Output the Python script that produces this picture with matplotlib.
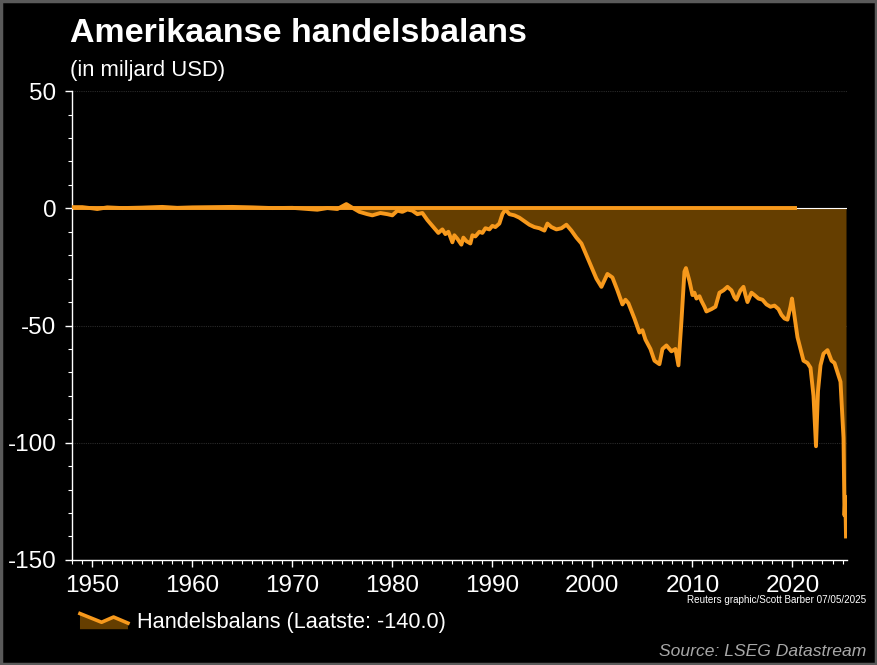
import matplotlib
matplotlib.use("Agg")
import matplotlib.pyplot as plt
from matplotlib.legend_handler import HandlerBase
from matplotlib.patches import Polygon, Rectangle
from matplotlib.lines import Line2D
from matplotlib.ticker import MultipleLocator

plt.rcParams['font.family'] = ['Liberation Sans', 'DejaVu Sans']
plt.rcParams['axes.unicode_minus'] = False

# Monthly US trade balance (bn USD)
years = [
    1948.0, 1949.0, 1950.0, 1950.5, 1951.5, 1953.0, 1955.0, 1957.0, 1958.5, 1960.0,
    1962.0, 1964.0, 1966.0, 1968.0, 1970.0, 1971.5, 1972.5, 1973.5, 1974.5, 1975.4,
    1975.9, 1976.7, 1977.5, 1978.0, 1978.8, 1979.5, 1980.0, 1980.5, 1981.0, 1981.5,
    1982.0, 1982.5, 1983.0, 1983.5, 1984.0, 1984.3, 1984.6, 1985.0, 1985.3, 1985.6,
    1986.0, 1986.2, 1986.5, 1986.9, 1987.1, 1987.4, 1987.8, 1988.0, 1988.3, 1988.7,
    1989.0, 1989.3, 1989.7, 1990.0, 1990.3, 1990.7, 1991.0, 1991.3, 1991.7, 1992.2,
    1992.7, 1993.2, 1993.7, 1994.2, 1994.7, 1995.2, 1995.5, 1995.9, 1996.4, 1996.9,
    1997.4, 1997.9, 1998.4, 1998.9, 1999.4, 1999.9, 2000.4, 2000.9, 2001.5, 2002.0,
    2002.5, 2003.0, 2003.3, 2003.6, 2004.2, 2004.7, 2005.0, 2005.3, 2005.8, 2006.2,
    2006.7, 2007.0, 2007.4, 2007.9, 2008.3, 2008.6, 2008.9, 2009.2, 2009.35, 2009.7,
    2010.0, 2010.2, 2010.4, 2010.7, 2010.9, 2011.2, 2011.4, 2011.9, 2012.3, 2012.7,
    2013.1, 2013.5, 2013.9, 2014.2, 2014.4, 2014.8, 2015.1, 2015.3, 2015.5, 2015.9,
    2016.2, 2016.6, 2017.0, 2017.4, 2017.8, 2018.2, 2018.6, 2018.9, 2019.2, 2019.5,
    2019.8, 2019.95, 2020.2, 2020.5, 2020.8, 2021.1, 2021.5, 2021.8, 2022.1, 2022.35,
    2022.55, 2022.8, 2023.1, 2023.5, 2023.9, 2024.2, 2024.5, 2024.8, 2024.95, 2025.1,
    2025.2, 2025.28, 2025.35,
]
balance = [
    0.5, 0.5, 0.0, -0.3, 0.4, 0.1, 0.3, 0.6, 0.2, 0.4,
    0.5, 0.6, 0.4, 0.1, 0.2, -0.3, -0.6, 0.1, -0.3, 1.8,
    0.5, -1.5, -2.5, -3.0, -2.0, -2.5, -3.0, -1.0, -1.5, -0.5,
    -1.0, -2.5, -2.0, -5.0, -7.5, -9.0, -10.5, -9.0, -11.0, -10.0,
    -14.5, -11.5, -13.0, -15.5, -12.5, -14.0, -15.0, -11.5, -12.0, -10.0,
    -10.5, -8.5, -9.0, -7.5, -8.0, -6.5, -2.5, -0.5, -2.5, -3.0,
    -4.0, -5.5, -7.0, -8.0, -8.5, -9.5, -6.5, -8.0, -9.0, -8.5,
    -7.0, -9.5, -12.5, -15.0, -20.0, -25.0, -30.0, -33.5, -28.0, -29.5,
    -35.0, -41.0, -39.0, -40.5, -47.0, -53.0, -52.0, -56.0, -60.0, -65.0,
    -66.5, -60.0, -58.5, -61.0, -60.0, -67.0, -48.0, -27.0, -25.5, -31.0,
    -37.0, -36.0, -38.5, -37.5, -39.5, -42.0, -44.0, -43.0, -42.0, -36.0,
    -35.0, -33.5, -35.0, -38.0, -39.0, -35.0, -33.5, -37.0, -40.0, -36.0,
    -37.0, -38.5, -39.0, -41.0, -42.0, -41.5, -43.0, -45.5, -47.0, -47.5,
    -42.0, -38.5, -46.0, -55.0, -60.0, -65.0, -66.0, -68.0, -80.0, -101.5,
    -78.0, -67.0, -62.0, -60.5, -65.0, -66.0, -70.0, -74.0, -86.0, -98.0,
    -131.0, -123.0, -140.0,
]

zero_orange_end = 2020.5
x_min, x_max = 1947.95, 2025.45
y_min, y_max = -150, 50

orange = '#f7991c'
brown = '#653e00'

fig = plt.figure(figsize=(8.77, 6.65), dpi=100, facecolor='black')
ax = fig.add_axes([0.0818, 0.158, 0.884, 0.705])
ax.set_facecolor('black')

# faint dotted gridlines
for yv in [50, -50, -100]:
    ax.axhline(yv, color='#2a2a2a', lw=0.8, ls=(0, (1, 1)), zorder=0)

ax.fill_between(years, balance, 0, color=brown, lw=0, zorder=1)
ax.plot([x_min, zero_orange_end], [0, 0], color=orange, lw=2.8, solid_capstyle='butt', zorder=2)
ax.plot([zero_orange_end, years[-1]], [0, 0], color='white', lw=0.8, zorder=2)
ax.plot(years, balance, color=orange, lw=2.8, solid_joinstyle='round', zorder=3)

ax.set_xlim(x_min, x_max)
ax.set_ylim(y_min, y_max)
ax.set_xticks(range(1950, 2021, 10))
ax.xaxis.set_minor_locator(MultipleLocator(1))
ax.set_yticks([50, 0, -50, -100, -150])
ax.yaxis.set_minor_locator(MultipleLocator(10))

for s in ['top', 'right']:
    ax.spines[s].set_visible(False)
for s in ['left', 'bottom']:
    ax.spines[s].set_color('white')
    ax.spines[s].set_linewidth(1.0)

ax.tick_params(axis='both', which='major', colors='white', labelsize=17.5, length=5, width=1, direction='out')
ax.tick_params(axis='both', which='minor', colors='white', length=3, width=0.8, direction='out')
ax.tick_params(axis='y', pad=6)
ax.tick_params(axis='x', pad=6)

# title and subtitle
fig.text(0.080, 0.937, 'Amerikaanse handelsbalans', color='white', fontsize=24.5,
         fontweight='bold', ha='left', va='baseline')
fig.text(0.080, 0.885, '(in miljard USD)', color='white', fontsize=15.8, ha='left', va='baseline')


class ZigzagHandler(HandlerBase):
    def create_artists(self, legend, orig_handle, xd, yd, width, height, fontsize, trans):
        fx = [0.0, 0.45, 0.7, 1.0]
        fy = [0.9, 0.4, 0.7, 0.35]
        pts = [(-xd + fx[i] * width, -yd + fy[i] * height) for i in range(4)]
        poly = Polygon(pts + [(-xd + width, -yd), (-xd, -yd)], closed=True,
                       facecolor=brown, edgecolor='none', transform=trans)
        line = Line2D([p[0] for p in pts], [p[1] for p in pts], color=orange, lw=2.6,
                      transform=trans)
        return [poly, line]


handle = Rectangle((0, 0), 1, 1)
leg = fig.legend([handle], ['Handelsbalans (Laatste: -140.0)'],
                 handler_map={Rectangle: ZigzagHandler()},
                 loc='center left', bbox_to_anchor=(0.0912, 0.064), frameon=False,
                 fontsize=15.7, handlelength=2.2, handleheight=0.85, handletextpad=0.42,
                 borderaxespad=0, borderpad=0)
for t in leg.get_texts():
    t.set_color('white')

fig.text(0.988, 0.097, 'Reuters graphic/Scott Barber 07/05/2025', color='white', fontsize=7.1,
         ha='right', va='center')
fig.text(0.988, 0.014, 'Source: LSEG Datastream', color='#a8a8a8', fontsize=12.6,
         style='italic', ha='right', va='baseline')

# thin grey frame around the graphic
fig.patches.append(Rectangle((0.001, 0.001), 0.998, 0.998, transform=fig.transFigure,
                             fill=False, edgecolor='#5a5a5a', lw=2.5))

fig.savefig('out.png', dpi=100, facecolor='black')
